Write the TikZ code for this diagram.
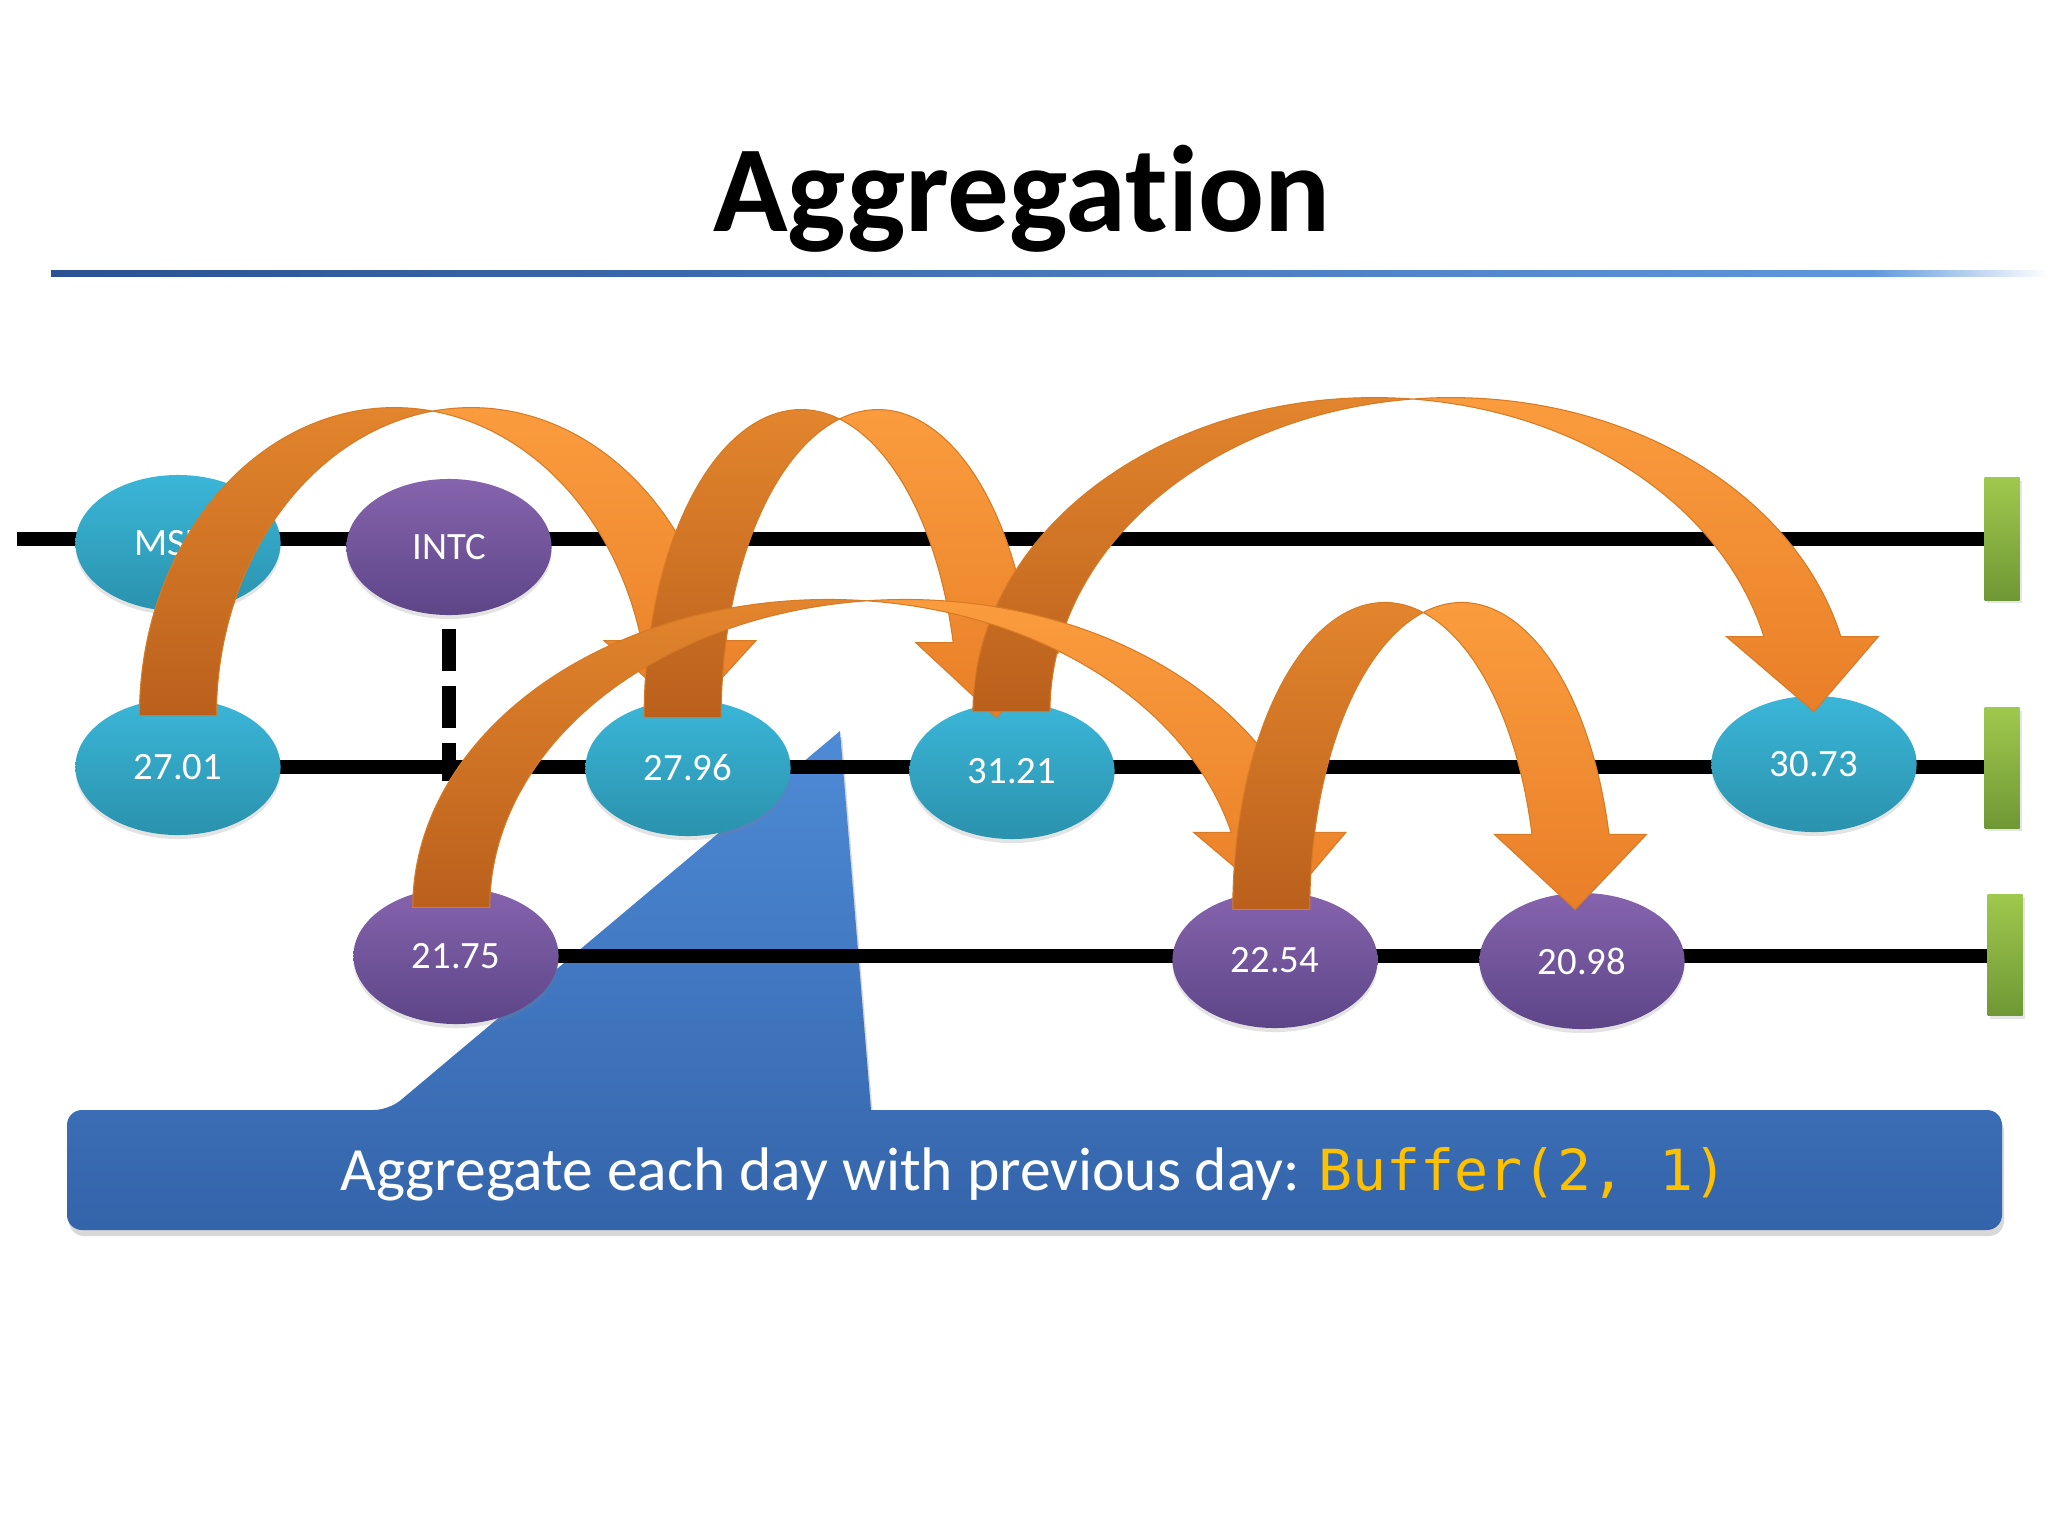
\documentclass[tikz,border=0pt]{standalone}
\usepackage{fontspec}
\setmainfont{Carlito}[Ligatures=NoCommon]
\newfontfamily\codefont{DejaVu Sans Mono}
\usetikzlibrary{shapes.geometric,shadows,calc}
\pgfdeclarelayer{back}
\pgfdeclarelayer{lines}
\pgfsetlayers{back,lines,main}

\definecolor{cyanTop}{HTML}{3BB6D8}
\definecolor{cyanBot}{HTML}{2A92AD}
\definecolor{purTop}{HTML}{8664AD}
\definecolor{purBot}{HTML}{5D4588}
\definecolor{grTop}{HTML}{9FC84E}
\definecolor{grBot}{HTML}{6F9835}
\definecolor{backTop}{HTML}{E3852D}
\definecolor{backBot}{HTML}{BA601C}
\definecolor{frontTop}{HTML}{FA9C3E}
\definecolor{frontBot}{HTML}{E97F28}
\definecolor{arrEdge}{HTML}{D77A24}
\definecolor{calloutTop}{HTML}{4E8BD7}
\definecolor{calloutBot}{HTML}{3464AA}
\definecolor{ruleL}{HTML}{2A5192}
\definecolor{ruleR}{HTML}{5E97DC}
\definecolor{codeYellow}{HTML}{FFC000}

\newdimen\arrd
\def\arrth{77}
\def\arrah{75}
\def\arraw{152}

\tikzset{
  valnode/.style={ellipse, minimum width=2.05cm, minimum height=1.36cm, inner sep=0pt,
    text=white, font=\fontsize{11}{13}\selectfont,
    drop shadow={opacity=0.22, shadow xshift=0pt, shadow yshift=-0.04cm}},
  msftnode/.style={valnode, top color=cyanTop, bottom color=cyanBot},
  intcnode/.style={valnode, top color=purTop, bottom color=purBot},
  greenbar/.style={rectangle, minimum width=0.35cm, inner sep=0pt, top color=grTop, bottom color=grBot,
    drop shadow={opacity=0.2, shadow xshift=0.02cm, shadow yshift=-0.03cm}},
  timeline/.style={line width=0.14cm, black},
  dashline/.style={line width=0.14cm, black, dash pattern=on 0.42cm off 0.15cm},
  arrowback/.style={top color=backTop, bottom color=backBot, draw=arrEdge, line width=0.3pt},
  arrowfront/.style={top color=frontTop, bottom color=frontBot, draw=arrEdge, line width=0.3pt},
}

% curved down arrow from node #1 to node #2
% #3 tail x shift, #4 tip x shift, #5 tail bottom above source centre, #6 height (px)
\newcommand\orarrow[6]{%
  \pgfextractx{\arrd}{\pgfpointanchor{#1}{center}}\pgfmathsetmacro\oSx{\arrd/0.28452756}%
  \pgfextracty{\arrd}{\pgfpointanchor{#1}{center}}\pgfmathsetmacro\oSy{-\arrd/0.28452756}%
  \pgfextractx{\arrd}{\pgfpointanchor{#2}{center}}\pgfmathsetmacro\oDx{\arrd/0.28452756}%
  \pgfmathsetmacro\oTc{\oSx+(#3)}%
  \pgfmathsetmacro\oTip{\oDx+(#4)}%
  \pgfmathsetmacro\oB{\oSy-(#5)}%
  \pgfmathsetmacro\oH{#6}%
  \pgfmathsetmacro\oW{(\oTip-\oTc)/2}%
  \pgfmathsetmacro\oXa{\oTc-\arrth/2+\oW}%
  \pgfmathsetmacro\oXb{\oXa+\arrth}%
  \pgfmathsetmacro\oAngA{acos(\arrth/(2*\oW))}%
  \pgfmathsetmacro\oAngB{180-\oAngA}%
  \pgfmathsetmacro\oAngOne{asin(\arrah/\oH)}%
  \pgfmathsetmacro\oYone{\oB-\arrah}%
  \pgfmathsetmacro\oXfive{\oXa+\oW*cos(\oAngOne)}%
  \pgfmathsetmacro\oXseven{\oXfive+\arrth}%
  \pgfmathsetmacro\oDh{(\arraw-\arrth)/2}%
  \shadedraw[arrowback]
    plot[variable=\t, domain=180:\oAngA, samples=70] ({\oXa+\oW*cos(\t)},{\oB-\oH*sin(\t)})
    -- plot[variable=\t, domain=\oAngB:180, samples=70] ({\oXb+\oW*cos(\t)},{\oB-\oH*sin(\t)})
    -- cycle;
  \shadedraw[arrowfront]
    plot[variable=\t, domain=\oAngB:\oAngOne, samples=70] ({\oXb+\oW*cos(\t)},{\oB-\oH*sin(\t)})
    -- (\oXseven+\oDh,\oYone) -- (\oTip,\oB) -- (\oXfive-\oDh,\oYone)
    -- plot[variable=\t, domain=\oAngOne:\oAngA, samples=70] ({\oXa+\oW*cos(\t)},{\oB-\oH*sin(\t)})
    -- cycle;
}

\begin{document}
\begin{tikzpicture}[x=0.01cm, y=-0.01cm]
\useasboundingbox (0,0) rectangle (2048,1536);

\begin{pgfonlayer}{back}
  \fill[white] (0,0) rectangle (2048,1536);
  % callout
  \shade[top color=calloutTop, bottom color=calloutBot,
         drop shadow={opacity=0.3, shadow xshift=0.02cm, shadow yshift=-0.06cm}]
    [rounded corners=0.15cm] (67,1110) -- (389,1110) [sharp corners] -- (840,731) -- (871,1110)
    [rounded corners=0.15cm] -- (2002,1110) -- (2002,1230) -- (67,1230) -- cycle;
\end{pgfonlayer}

% title and rule
\node[font=\bfseries\fontsize{35}{40}\selectfont, anchor=base] (title) at (1022,231) {Aggregation};
\shade[left color=ruleL, right color=ruleR] (51,270) rectangle (1870,276);
\shade[left color=ruleR, right color=white] (1870,270) rectangle (2048,276);

% value nodes
\node[msftnode] (msft) at (178,543) {MSFT};
\node[intcnode] (intc) at (449,547) {INTC};
\node[msftnode] (v2701) at (178,767) {27.01};
\node[msftnode] (v2796) at (688,768) {27.96};
\node[msftnode] (v3121) at (1012,771) {31.21};
\node[msftnode] (v3073) at (1814,764) {30.73};
\node[intcnode] (v2175) at (456,956) {21.75};
\node[intcnode] (v2254) at (1275,960) {22.54};
\node[intcnode] (v2098) at (1582,961) {20.98};

% end bars
\node[greenbar, minimum height=1.22cm] (bar1) at (2002,539) {};
\node[greenbar, minimum height=1.20cm] (bar2) at (2002,768) {};
\node[greenbar, minimum height=1.21cm] (bar3) at (2005,955) {};

% timelines
\begin{pgfonlayer}{lines}
  \coordinate (l1s) at (17,539);
  \draw[timeline] (l1s) -- (l1s -| bar1.west);
  \draw[timeline] (v2701.center) -- (v2701.center -| bar2.west);
  \draw[timeline] (v2175.center) -- (v2175.center -| bar3.west);
  \coordinate (dashend) at (449,781);
  \draw[dashline] ([yshift=-0.13cm]intc.south) -- (dashend);
\end{pgfonlayer}

% curved arrows
\orarrow{v2701}{v2796}{0}{0}{51}{308}
\orarrow{v2796}{v3121}{-5}{-15}{50}{308}
\orarrow{v3121}{v3073}{0}{1}{59}{314}
\orarrow{v2175}{v2254}{-4.5}{8}{48}{308}
\orarrow{v2254}{v2098}{-3}{-6}{50}{307}

% callout text
\node[anchor=base, text=white, font=\fontsize{17.5}{21}\selectfont, inner sep=0pt] (ctext) at (1034,1190)
  {Aggregate each day with previous day: {\codefont\fontsize{16.1}{20}\selectfont\color{codeYellow}Buffer(2, 1)}};
\end{tikzpicture}
\end{document}
